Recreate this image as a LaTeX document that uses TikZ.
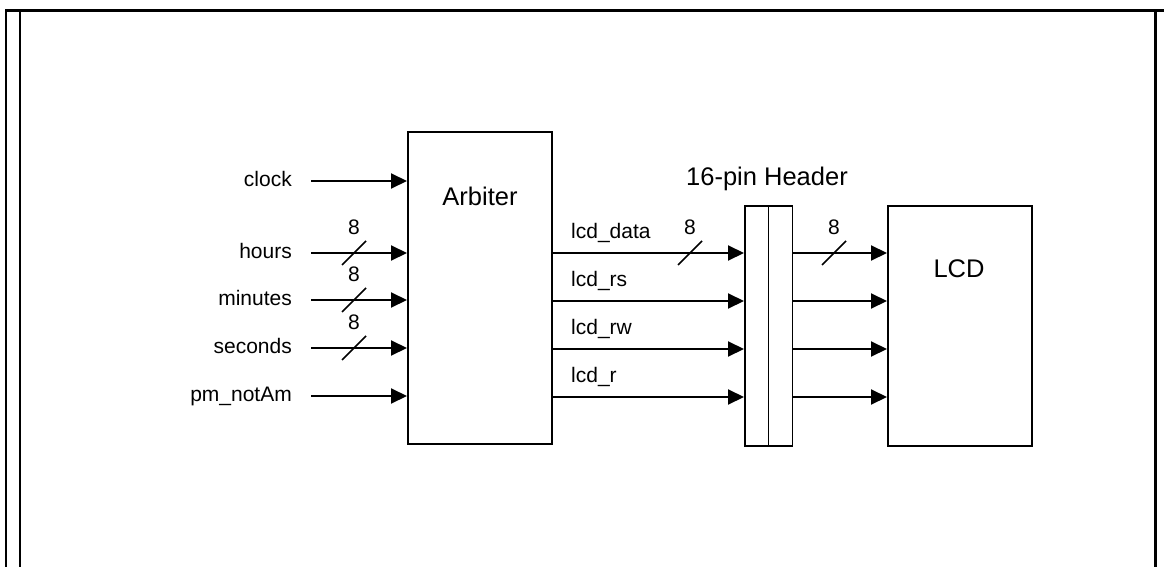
\documentclass[tikz,border=0pt]{standalone}
\usepackage{fontspec}
\setmainfont{Liberation Sans}
\usetikzlibrary{arrows.meta}
\begin{document}
\begin{tikzpicture}[x=1pt,y=-1pt,
  blk/.style={draw,line width=1.8pt,minimum width=0pt,inner sep=0pt},
  sig/.style={line width=2pt,-{Triangle[length=16pt,width=15pt]}},
  bus/.style={line width=1.6pt},
  small/.style={font=\fontsize{21}{25}\selectfont,inner sep=0pt},
  big/.style={font=\fontsize{25.5}{30}\selectfont,inner sep=0pt},
  frm/.style={line width=2.2pt}]
\useasboundingbox (0,0) rectangle (1164,567);
% frame
\draw[line width=3pt] (5,10.5) -- (1164,10.5);
\draw[frm] (6,10) -- (6,567);
\draw[frm] (20,10) -- (20,567);
\draw[frm] (1155.5,10) -- (1155.5,567);
% blocks
\node[blk,minimum width=144pt,minimum height=312pt,anchor=north west] (arb) at (407,131) {};
\node[blk,minimum width=23.5pt,minimum height=240pt,anchor=north west] (hl) at (744,205) {};
\node[blk,minimum width=24pt,minimum height=240pt,anchor=north west] (hr) at (767.5,205) {};
\node[blk,minimum width=144pt,minimum height=240pt,anchor=north west] (lcd) at (887,205) {};
\node[big,anchor=base] (tarb) at (480,205) {Arbiter};
\node[big,anchor=base] (tlcd) at (959,277) {LCD};
\node[big,anchor=base] (thdr) at (767,185) {16-pin Header};
% inputs
\foreach \n/\t/\y in {iclk/clock/181,ihr/hours/253,imin/minutes/300,isec/seconds/348,ipm/pm\_notAm/396}{
  \coordinate (\n) at (311,\y);
  \node[small,anchor=base east] (l\n) at (292,\y+5) {\t};
  \draw[sig] (\n) -- (arb.west |- \n);
}
\foreach \n/\y in {ihr/253,imin/300,isec/348}{
  \draw[bus] (342,\y+12) -- (366,\y-12);
  \node[small,anchor=base] (w\n) at (354,\y-18.5) {8};
}
% arbiter to header
\foreach \n/\t/\y in {od/lcd\_data/253,ors/lcd\_rs/301,orw/lcd\_rw/349,or/lcd\_r/397}{
  \coordinate (\n) at (arb.east |- 0,\y);
  \node[small,anchor=base west] (l\n) at (571,\y-15) {\t};
  \draw[sig] (\n) -- (hl.west |- \n);
  \coordinate (p\n) at (hr.east |- 0,\y);
  \draw[sig] (p\n) -- (lcd.west |- p\n);
}
\draw[bus] (678,265) -- (702,241);
\node[small,anchor=base] (wod) at (690,234.5) {8};
\draw[bus] (822,265) -- (846,241);
\node[small,anchor=base] (wpod) at (834,234.5) {8};
\end{tikzpicture}
\end{document}
